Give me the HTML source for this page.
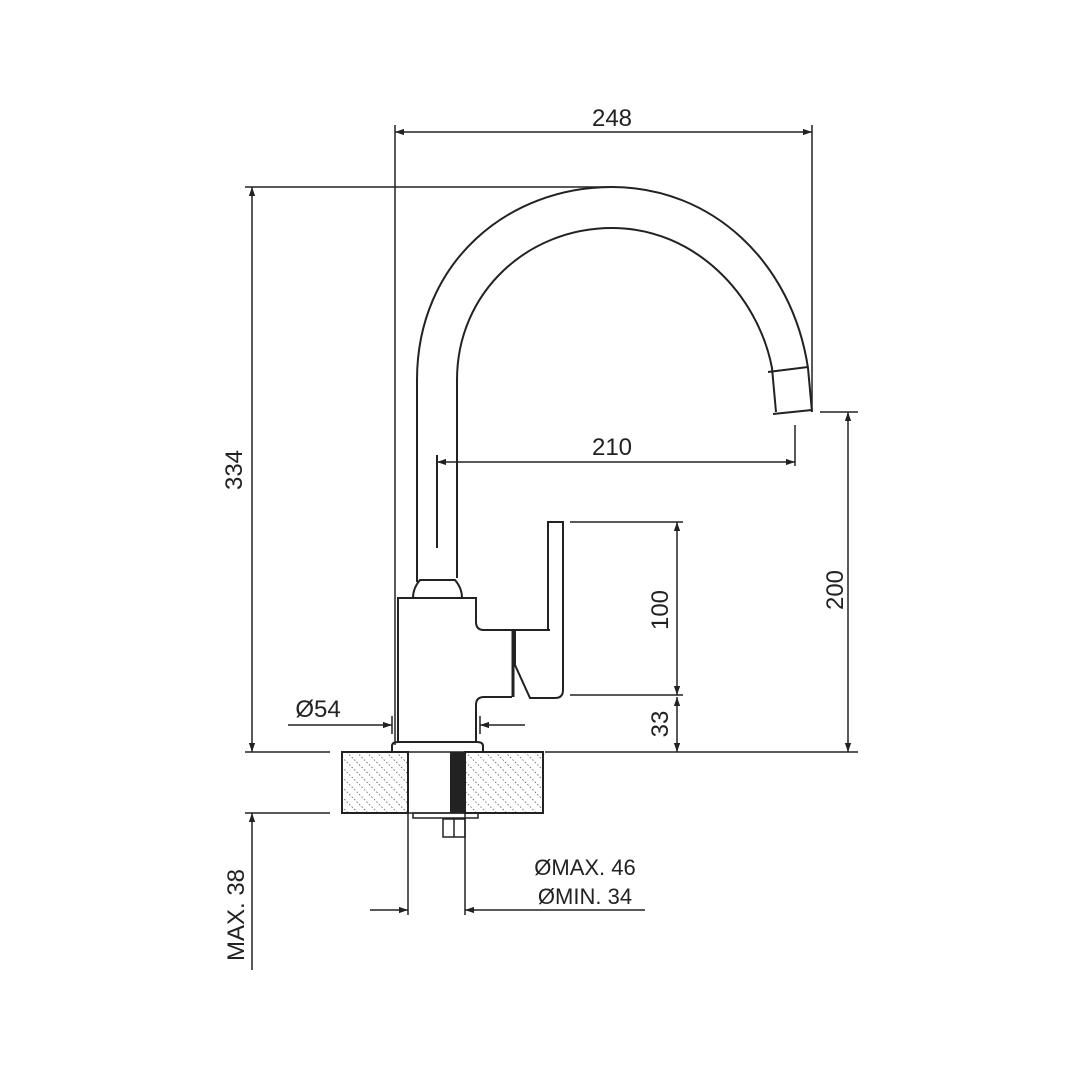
<!DOCTYPE html>
<html><head><meta charset="utf-8"><style>html,body{margin:0;padding:0;background:#fff}</style></head>
<body>
<svg width="1080" height="1080" viewBox="0 0 1080 1080" xmlns="http://www.w3.org/2000/svg" font-family="Liberation Sans, sans-serif">
<defs>
<pattern id="h" width="7" height="7" patternUnits="userSpaceOnUse" patternTransform="rotate(-45)">
<line x1="0" y1="0" x2="0" y2="7" stroke="#333" stroke-width="1.3" stroke-dasharray="1.5 2"/>
</pattern>
<marker id="a" viewBox="0 0 10 10" refX="10" refY="5" markerWidth="15" markerHeight="9" orient="auto-start-reverse" markerUnits="userSpaceOnUse">
<path d="M0,1.5 L10,5 L0,8.5 Z" fill="#222"/>
</marker>
</defs>
<g stroke="#222" stroke-width="2" fill="none">
<path d="M417,582 L417,380 C417,262 508,187 612,187 C712,187 792,262 808,368 L812,412"/>
<path d="M457,578 L457,380 C457,292 528,228 612,228 C695,228 758,295 772,368 L776,412"/>
<path d="M768,372 L808,367"/>
<path d="M773,414 L812,410"/>
<path d="M413,598 Q413,588 420,580 L455,580 Q462,588 462,598"/>
<line x1="437" y1="455" x2="437" y2="548"/>
<path d="M398,742 L398,598 L476,598 L476,622 Q476,630 484,630 L550,630"/>
<path d="M512,697 L484,697 Q476,697 476,705 L476,742"/>
<path d="M392,752 L392,746 Q392,742 398,742 L477,742 Q483,742 483,746 L483,752"/>
<path d="M548,630 L548,522 L563,522 L563,690 Q563,698 555,698 L530,698 L515,665 L515,630"/>
<line x1="513" y1="630" x2="513" y2="697" stroke-width="3"/>
<rect x="342" y="752" width="66" height="61" fill="url(#h)"/>
<rect x="465" y="752" width="78" height="61" fill="url(#h)"/>
<rect x="342" y="752" width="201" height="61" stroke-width="1.5"/>
<rect x="450" y="752" width="15" height="61" fill="#222" stroke="none"/>
<line x1="408" y1="752" x2="408" y2="915" stroke-width="1.5"/>
<line x1="465" y1="752" x2="465" y2="915" stroke-width="1.5"/>
<rect x="413" y="813" width="65" height="5" stroke-width="1.5"/>
<rect x="443" y="819" width="22" height="18" stroke-width="1.5"/>
<line x1="454" y1="819" x2="454" y2="837" stroke-width="1.5"/>
</g>
<g stroke="#222" stroke-width="1.5" fill="none">
<line x1="395" y1="125" x2="395" y2="745"/>
<line x1="812" y1="125" x2="812" y2="410"/>
<line x1="245" y1="187" x2="610" y2="187"/>
<line x1="245" y1="752" x2="330" y2="752"/>
<line x1="545" y1="752" x2="858" y2="752"/>
<line x1="820" y1="412" x2="858" y2="412"/>
<line x1="795" y1="425" x2="795" y2="466"/>
<line x1="570" y1="522" x2="683" y2="522"/>
<line x1="570" y1="695" x2="683" y2="695"/>
<line x1="245" y1="813" x2="330" y2="813"/>
<line x1="395" y1="132" x2="812" y2="132" marker-start="url(#a)" marker-end="url(#a)"/>
<line x1="252" y1="187" x2="252" y2="752" marker-start="url(#a)" marker-end="url(#a)"/>
<line x1="437" y1="462" x2="795" y2="462" marker-start="url(#a)" marker-end="url(#a)"/>
<line x1="848" y1="412" x2="848" y2="752" marker-start="url(#a)" marker-end="url(#a)"/>
<line x1="677" y1="522" x2="677" y2="695" marker-start="url(#a)" marker-end="url(#a)"/>
<line x1="677" y1="697" x2="677" y2="752" marker-start="url(#a)" marker-end="url(#a)"/>
<line x1="252" y1="813" x2="252" y2="970" marker-start="url(#a)"/>
<line x1="288" y1="725" x2="392" y2="725" marker-end="url(#a)"/>
<line x1="525" y1="725" x2="480" y2="725" marker-end="url(#a)"/>
<line x1="392" y1="716" x2="392" y2="734"/>
<line x1="480" y1="716" x2="480" y2="734"/>
<line x1="370" y1="910" x2="408" y2="910" marker-end="url(#a)"/>
<line x1="645" y1="910" x2="465" y2="910" marker-end="url(#a)"/>
</g>
<g fill="#222" font-size="24">
<text x="612" y="126" text-anchor="middle">248</text>
<text x="612" y="455" text-anchor="middle">210</text>
<text x="318" y="717" text-anchor="middle">Ø54</text>
<text transform="translate(242,470) rotate(-90)" text-anchor="middle">334</text>
<text transform="translate(843,590) rotate(-90)" text-anchor="middle">200</text>
<text transform="translate(668,610) rotate(-90)" text-anchor="middle">100</text>
<text transform="translate(668,724) rotate(-90)" text-anchor="middle">33</text>
<text transform="translate(244,915) rotate(-90)" text-anchor="middle">MAX. 38</text>
<text x="585" y="875" text-anchor="middle" font-size="22">ØMAX. 46</text>
<text x="585" y="904" text-anchor="middle" font-size="22">ØMIN. 34</text>
</g>
</svg>
</body></html>
